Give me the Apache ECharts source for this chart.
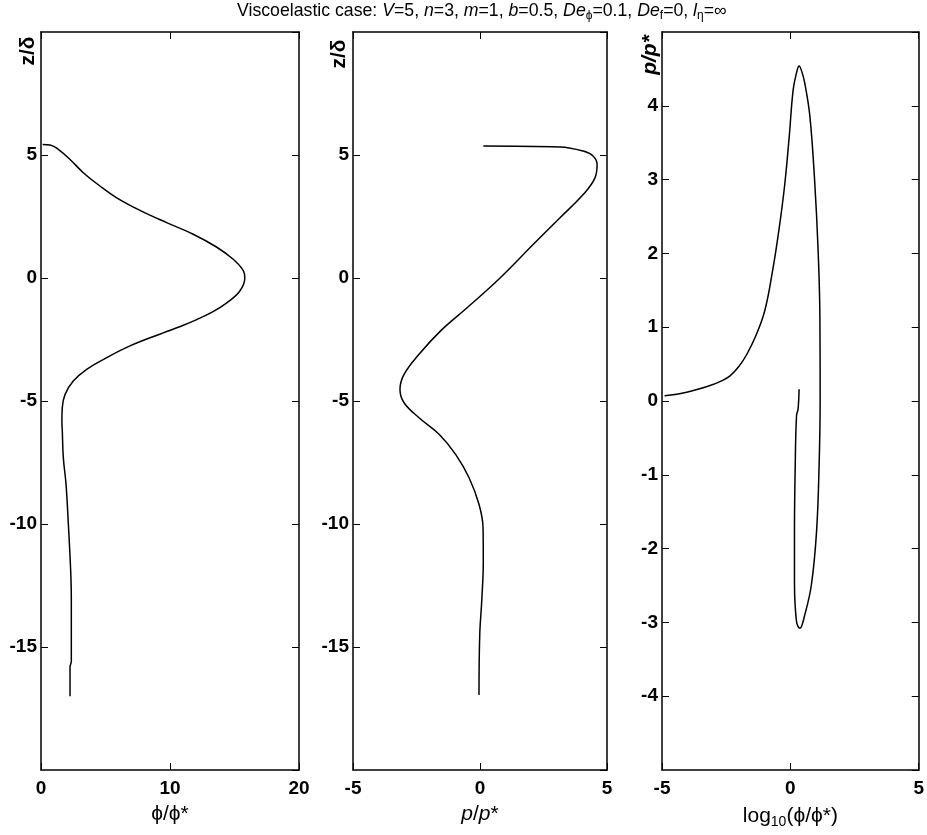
<!DOCTYPE html>
<html>
<head>
<meta charset="utf-8">
<script src="https://cdn.jsdelivr.net/npm/echarts@6/dist/echarts.min.js"></script>
<style>
html,body{margin:0;padding:0;background:#fff;}
#chart{width:927px;height:835px;}
</style>
</head>
<body>
<div id="chart"></div>
<script>
// Panel 1: phi/phi* versus z/delta (read top to bottom along the curve)
const phiValues = [0.13, 0.7, 1.34, 2.25, 3.28, 4.57, 5.87, 7.67, 9.74, 11.8, 13.6, 14.9, 15.7, 15.8,
  15.4, 14.4, 13.3, 12.07, 10.8, 9.48, 6.9, 5.09, 3.54, 2.5, 1.86, 1.65, 1.62, 1.65, 1.73, 1.94, 2.12, 2.3, 2.35, 2.35, 2.25, 2.25];
const zPhi = [5.43, 5.41, 5.23, 4.82, 4.28, 3.74, 3.26, 2.75, 2.25, 1.78, 1.26, 0.76, 0.28, 0.0,
  -0.54, -1.01, -1.38, -1.69, -1.97, -2.23, -2.76, -3.24, -3.71, -4.19, -4.74, -5.27, -5.8, -6.2, -7.3, -8.38, -10.0, -11.9, -13.0, -15.6, -15.8, -17.0];

// Panel 2: p/p* versus z/delta
const pValues = [0.13, 3.15, 4.07, 4.45, 4.61, 4.53, 4.07, 3.15, 2.1, 0.79, -0.52, -1.55, -2.40, -2.99, -3.15,
  -2.99, -2.40, -1.61, -0.96, -0.43, -0.04, 0.12, 0.13, 0.07, -0.01, -0.04];
const zP = [5.37, 5.33, 5.16, 4.96, 4.62, 4.08, 3.40, 2.45, 1.37, 0.0, -1.22, -2.15, -3.1, -3.92, -4.53,
  -5.07, -5.68, -6.35, -7.17, -8.12, -9.2, -10.15, -11.5, -13.1, -14.5, -16.95];

// Panel 3: log10(phi/phi*) versus p/p*
const logPhiValues = [-4.9, -4.04, -3.13, -2.7, -2.35, -2.0, -1.7, -1.35, -1.0, -0.7, -0.44, -0.22, -0.04, 0.11, 0.25, 0.34, 0.44,
  0.56, 0.76, 0.95, 1.08, 1.15, 1.16, 1.12, 1.02, 0.82, 0.56, 0.37, 0.24, 0.16, 0.16, 0.19, 0.24, 0.30, 0.34];
const pLoop = [0.07, 0.12, 0.21, 0.27, 0.34, 0.47, 0.63, 0.88, 1.22, 1.75, 2.33, 2.93, 3.6, 4.22, 4.46, 4.54, 4.47,
  4.31, 3.86, 2.96, 2.05, 1.15, 0.0, -0.87, -1.77, -2.49, -2.9, -3.08, -2.99, -2.45, -1.77, -0.87, -0.2, -0.11, 0.16];

// Axis ranges / tick intervals
const zRange = [-20, 10], zStep = 5;
const phiRange = [0, 20], phiStep = 10;
const pRange = [-5, 5], pStep = 5;
const logRange = [-5, 5], logStep = 5;
const pLoopRange = [-5, 5], pLoopStep = 1;

function zip(a, b) { return a.map((v, i) => [v, b[i]]); }

const FONT = 'Liberation Sans, Arial, Helvetica, sans-serif';
const BLACK = '#000';

function xAx(grid, range, step, pos, name, rich) {
  const main = pos === 'bottom';
  return {
    type: 'value', gridIndex: grid, position: pos, min: range[0], max: range[1], interval: step,
    axisLine: { show: true, onZero: false, lineStyle: { color: BLACK, width: 1.5 } },
    axisTick: { show: true, inside: true, length: 7, lineStyle: { color: BLACK, width: 1 } },
    splitLine: { show: false },
    axisLabel: { show: main, color: BLACK, fontSize: 19, fontWeight: 'bold', fontFamily: FONT, margin: 9 },
    name: main ? name : '', nameLocation: 'middle', nameGap: 34,
    nameTextStyle: { color: BLACK, fontSize: 20, fontFamily: FONT, rich: rich || {} }
  };
}
function yAx(grid, range, step, pos) {
  const main = pos === 'left';
  return {
    type: 'value', gridIndex: grid, position: pos, min: range[0], max: range[1], interval: step,
    axisLine: { show: true, onZero: false, lineStyle: { color: BLACK, width: 1.5 } },
    axisTick: { show: true, inside: true, length: 7, lineStyle: { color: BLACK, width: 1 } },
    splitLine: { show: false },
    axisLabel: { show: main, color: BLACK, fontSize: 19, fontWeight: 'bold', fontFamily: FONT, margin: 4,
      showMinLabel: false, showMaxLabel: false }
  };
}

const nameRich = {
  i: { fontStyle: 'italic', fontSize: 21, fontFamily: FONT, color: BLACK },
  n: { fontSize: 21, fontFamily: FONT, color: BLACK },
  sub: { fontSize: 14, fontFamily: FONT, color: BLACK, padding: [11, 0, 0, 0] }
};

const titleRich = {
  t: { fontSize: 17.7, fontFamily: FONT, color: BLACK },
  i: { fontSize: 17.7, fontFamily: FONT, color: BLACK, fontStyle: 'italic' },
  sub: { fontSize: 12, fontFamily: FONT, color: BLACK, padding: [10, 0, 0, 0] }
};

const lineStyle = { color: BLACK, width: 1.5 };

const option = {
  backgroundColor: '#fff',
  animation: false,
  title: {
    text: '{t|Viscoelastic case: }{i|V}{t|=5, }{i|n}{t|=3, }{i|m}{t|=1, }{i|b}{t|=0.5, }{i|De}{sub|ϕ}{t|=0.1, }{i|De}{sub|f}{t|=0, }{i|l}{sub|η}{t|=∞}',
    left: 237, top: 0, padding: 0,
    textStyle: { rich: titleRich, fontSize: 17.7, fontFamily: FONT, color: BLACK, fontWeight: 'normal' }
  },
  grid: [
    { left: 41, top: 32, width: 258, height: 738 },
    { left: 353, top: 32, width: 254, height: 738 },
    { left: 662, top: 32, width: 257, height: 738 }
  ],
  xAxis: [
    xAx(0, phiRange, phiStep, 'bottom', '{n|ϕ/ϕ*}', nameRich),
    xAx(0, phiRange, phiStep, 'top'),
    xAx(1, pRange, pStep, 'bottom', '{i|p}{n|/}{i|p}{n|*}', nameRich),
    xAx(1, pRange, pStep, 'top'),
    xAx(2, logRange, logStep, 'bottom', '{n|log}{sub|10}{n|(ϕ/ϕ*)}', nameRich),
    xAx(2, logRange, logStep, 'top')
  ],
  yAxis: [
    yAx(0, zRange, zStep, 'left'),
    yAx(0, zRange, zStep, 'right'),
    yAx(1, zRange, zStep, 'left'),
    yAx(1, zRange, zStep, 'right'),
    yAx(2, pLoopRange, pLoopStep, 'left'),
    yAx(2, pLoopRange, pLoopStep, 'right')
  ],
  graphic: [
    { type: 'text', x: 28, y: 51, rotation: Math.PI / 2,
      style: { text: 'z/δ', font: 'bold 21px ' + FONT, fill: BLACK, align: 'center', verticalAlign: 'middle' } },
    { type: 'text', x: 339, y: 54, rotation: Math.PI / 2,
      style: { text: 'z/δ', font: 'bold 21px ' + FONT, fill: BLACK, align: 'center', verticalAlign: 'middle' } },
    { type: 'text', x: 650, y: 55, rotation: Math.PI / 2,
      style: { text: 'p/p*', font: 'italic bold 21px ' + FONT, fill: BLACK, align: 'center', verticalAlign: 'middle' } }
  ],
  series: [
    { type: 'line', xAxisIndex: 0, yAxisIndex: 0, data: zip(phiValues, zPhi), showSymbol: false, smooth: 0.4, lineStyle: lineStyle },
    { type: 'line', xAxisIndex: 2, yAxisIndex: 2, data: zip(pValues, zP), showSymbol: false, smooth: 0.4, lineStyle: lineStyle },
    { type: 'line', xAxisIndex: 4, yAxisIndex: 4, data: zip(logPhiValues, pLoop), showSymbol: false, smooth: 0.4, lineStyle: lineStyle }
  ]
};

const chart = echarts.init(document.getElementById('chart'), null, { renderer: 'canvas' });
chart.setOption(option);
</script>
</body>
</html>
